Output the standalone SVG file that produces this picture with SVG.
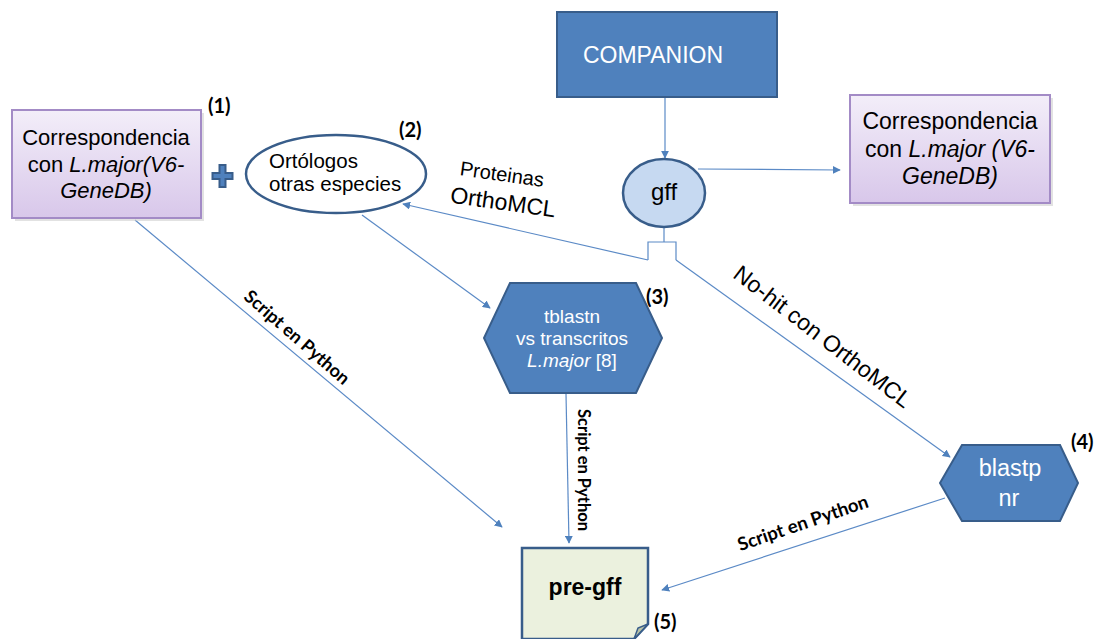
<svg xmlns="http://www.w3.org/2000/svg" width="1102" height="639" viewBox="0 0 1102 639">
<defs>
<linearGradient id="lav" x1="0" y1="0" x2="0" y2="1">
<stop offset="0" stop-color="#f3eef9"/>
<stop offset="1" stop-color="#d8c7ea"/>
</linearGradient>
<marker id="arr" viewBox="0 0 10 10" refX="9" refY="5" markerWidth="8" markerHeight="8" markerUnits="userSpaceOnUse" orient="auto">
<path d="M0,0 L10,5 L0,10 z" fill="#4f81bd"/>
</marker>
<style>
.conn{fill:none;stroke:#5b8ac6;stroke-width:1.2}
.lbl{font-family:"Liberation Sans",Arial,sans-serif;fill:#000}
.wht{fill:#fff}
.num{font-family:Lato,"Liberation Sans",sans-serif;font-weight:bold;font-size:20px;fill:#000}
.scr{font-family:Lato,"Liberation Sans",sans-serif;font-weight:bold;fill:#000}
.dark{fill:#4f81bd;stroke:#385d8a;stroke-width:2}
.lavbox{fill:url(#lav);stroke:#a38bc6;stroke-width:2}
</style>
</defs>
<rect width="1102" height="639" fill="#fff"/>

<g id="connectors">
<line class="conn" x1="665" y1="97" x2="665" y2="158" marker-end="url(#arr)"/>
<line class="conn" x1="698" y1="169" x2="840" y2="170" marker-end="url(#arr)"/>
<polyline class="conn" points="664,228 664,242"/>
<polyline class="conn" points="648,260 648,242 676,242 676,260"/>
<line class="conn" x1="648" y1="260" x2="403" y2="204" marker-end="url(#arr)"/>
<line class="conn" x1="676" y1="260" x2="950" y2="457" marker-end="url(#arr)"/>
<line class="conn" x1="362" y1="215" x2="490" y2="308" marker-end="url(#arr)"/>
<line class="conn" x1="135" y1="220" x2="502" y2="527" marker-end="url(#arr)"/>
<line class="conn" x1="566" y1="394" x2="569" y2="543" marker-end="url(#arr)"/>
<line class="conn" x1="945" y1="498" x2="662" y2="590" marker-end="url(#arr)"/>
<text class="lbl" font-size="20" transform="translate(501,181) rotate(8)" text-anchor="middle">Proteinas</text>
<text class="lbl" font-size="23" transform="translate(502,210) rotate(8)" text-anchor="middle">OrthoMCL</text>
<text class="lbl" font-size="23" transform="translate(818,343) rotate(37.5)" text-anchor="middle">No-hit con OrthoMCL</text>
<text class="scr" font-size="18" transform="translate(293,342) rotate(41)" text-anchor="middle">Script en Python</text>
<text class="scr" font-size="16.5" transform="translate(578,470) rotate(90)" text-anchor="middle">Script en Python</text>
<text class="scr" font-size="18.5" transform="translate(805,529) rotate(-19)" text-anchor="middle">Script en Python</text>
</g>

<g id="node-correspondencia-left">
<rect x="15" y="113" width="189" height="108" fill="#cfcfcf" opacity="0.6"/>
<rect class="lavbox" x="12" y="110" width="189" height="108"/>
<text class="lbl" font-size="22" text-anchor="middle"><tspan x="106" y="145">Correspondencia</tspan><tspan x="106" y="172">con <tspan font-style="italic">L.major(V6-</tspan></tspan><tspan x="106" y="198" font-style="italic">GeneDB)</tspan></text>
<text class="num" x="208" y="113">(1)</text>
</g>

<g id="node-plus">
<path class="dark" stroke-width="1.2" d="M219.5,165 h6 v8 h7 v6 h-7 v8 h-6 v-8 h-7 v-6 h7 z"/>
</g>

<g id="node-ortologos">
<ellipse cx="336" cy="174" rx="90" ry="39" fill="#fff" stroke="#385d8a" stroke-width="2.5"/>
<text class="lbl" font-size="20.5"><tspan x="269" y="168">Ortólogos</tspan><tspan x="269" y="191">otras especies</tspan></text>
<text class="num" x="399" y="137">(2)</text>
</g>

<g id="node-companion">
<rect class="dark" x="557" y="12" width="220" height="85"/>
<text class="lbl wht" font-size="23" x="653" y="63" text-anchor="middle">COMPANION</text>
</g>

<g id="node-gff">
<ellipse cx="664" cy="193" rx="41" ry="34" fill="#c6d9f1" stroke="#385d8a" stroke-width="2.5"/>
<text class="lbl" font-size="24" x="664" y="200" text-anchor="middle">gff</text>
</g>

<g id="node-correspondencia-right">
<rect x="853" y="98" width="200" height="108" fill="#cfcfcf" opacity="0.6"/>
<rect class="lavbox" x="850" y="95" width="200" height="108"/>
<text class="lbl" font-size="23" text-anchor="middle"><tspan x="950" y="129">Correspondencia</tspan><tspan x="950" y="157">con <tspan font-style="italic">L.major (V6-</tspan></tspan><tspan x="950" y="184" font-style="italic">GeneDB)</tspan></text>
</g>

<g id="node-tblastn">
<polygon class="dark" points="510,283 636,283 662,338 636,393 510,393 484,338"/>
<text class="lbl wht" font-size="19" text-anchor="middle"><tspan x="572" y="323">tblastn</tspan><tspan x="572" y="345">vs transcritos</tspan><tspan x="572" y="367"><tspan font-style="italic">L.major</tspan> [8]</tspan></text>
<text class="num" x="646" y="304">(3)</text>
</g>

<g id="node-blastp">
<polygon class="dark" points="962,445 1060,445 1078,483 1060,521 962,521 940,483"/>
<text class="lbl wht" font-size="23.5" text-anchor="middle"><tspan x="1010" y="476">blastp</tspan><tspan x="1009" y="506">nr</tspan></text>
<text class="num" x="1071" y="449">(4)</text>
</g>

<g id="node-pregff">
<path d="M522,548 H648 V624 L634,639 H522 Z" fill="#ebf1de" stroke="#385d8a" stroke-width="2.5"/>
<path d="M634,639 L638,628 L648,624 Z" fill="#b8c3a8" stroke="#385d8a" stroke-width="1.5"/>
<text class="lbl" font-size="23" font-weight="bold" x="585" y="595" text-anchor="middle">pre-gff</text>
<text class="num" x="654" y="629">(5)</text>
</g>
</svg>
